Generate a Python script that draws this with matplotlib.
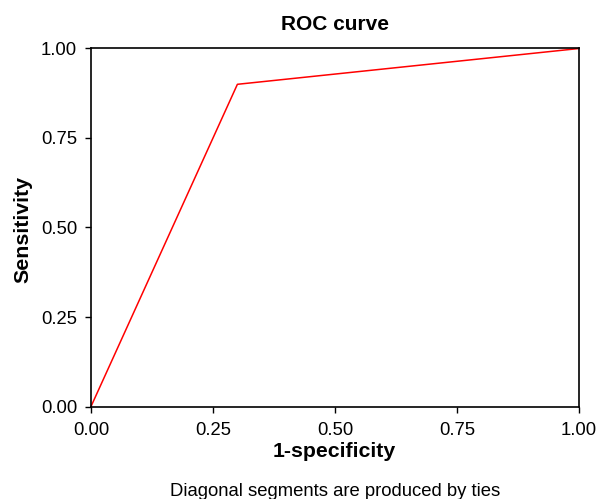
import matplotlib
matplotlib.use("Agg")
import matplotlib.pyplot as plt

plt.rcParams['font.family'] = ['Liberation Sans', 'DejaVu Sans']

fpr = [0.0, 0.30, 1.0]
tpr = [0.0, 0.90, 1.0]
ticks = [0.0, 0.25, 0.5, 0.75, 1.0]
tick_labels = ["0.00", "0.25", "0.50", "0.75", "1.00"]

fig = plt.figure(figsize=(5.98, 4.99), dpi=100)
ax = fig.add_axes([91/598, 1-406.5/499, (579-91)/598, (406.5-48.5)/499])
ax.plot(fpr, tpr, color='red', lw=1.1, clip_on=False)
ax.set_xlim(0, 1)
ax.set_ylim(0, 1)
ax.set_xticks(ticks)
ax.set_xticklabels(tick_labels)
ax.set_yticks(ticks)
ax.set_yticklabels(tick_labels)
ax.tick_params(labelsize=13.3, direction='out', length=4, width=1, colors='black')
ax.tick_params(axis='x', pad=7.5)
ax.tick_params(axis='y', pad=6)
for s in ax.spines.values():
    s.set_linewidth(1.2)
fig.text(335/598, 1-30/499, "ROC curve", ha='center', va='baseline', fontsize=15, fontweight='bold')
fig.text(334.5/598, 1-457/499, "1-specificity", ha='center', va='baseline', fontsize=15.3, fontweight='bold')
fig.text(23/598, 1-229.5/499, "Sensitivity", ha='center', va='center', rotation=90, fontsize=15.4, fontweight='bold')
fig.text(335/598, 1-496/499, "Diagonal segments are produced by ties", ha='center', va='baseline', fontsize=13.3)
fig.savefig("out.png", dpi=100)
